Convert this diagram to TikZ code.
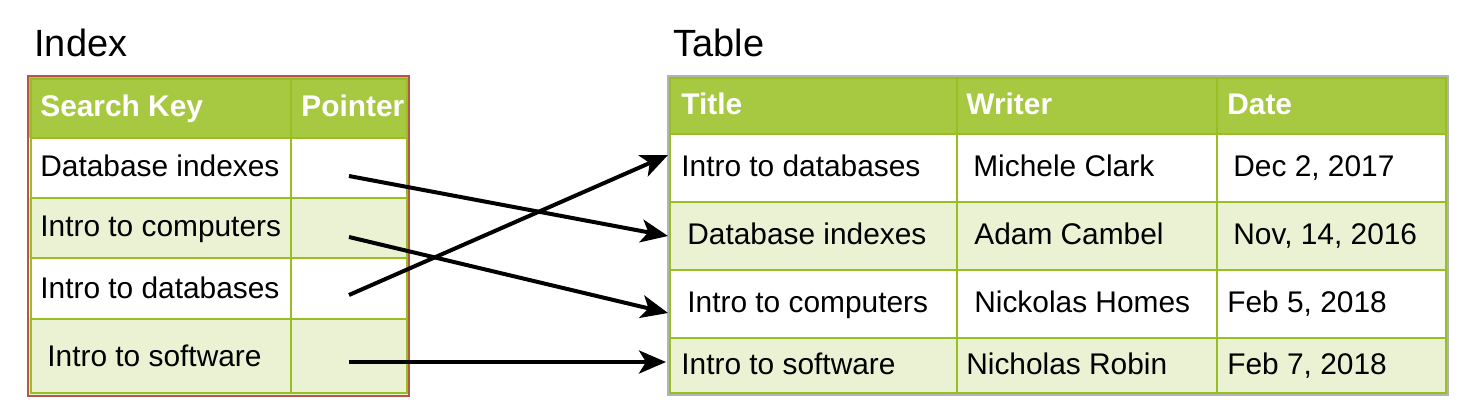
\documentclass[tikz,border=0pt]{standalone}
\usepackage{fontspec}
\setmainfont{Liberation Sans}
\usetikzlibrary{arrows.meta}

\definecolor{hdrgreen}{HTML}{A7C942}
\definecolor{rowgreen}{HTML}{EAF2D3}
\definecolor{linegreen}{HTML}{98BF21}
\definecolor{idxred}{HTML}{B85450}
\definecolor{tblgray}{HTML}{B3B3B3}

\tikzset{
  celltext/.style={anchor=base west, inner sep=0pt, font=\fontsize{17}{20}\selectfont},
  headtext/.style={anchor=base west, inner sep=0pt, text=white, font=\fontsize{17}{20}\selectfont\bfseries},
  titletext/.style={anchor=base west, inner sep=0pt, font=\fontsize{21.6}{26}\selectfont},
  gridline/.style={linegreen, line width=0.04cm},
  ptr/.style={-{Stealth[length=0.54cm,width=0.46cm,inset=0.14cm]}, line width=0.08cm},
}

\begin{document}
\begin{tikzpicture}[x=0.02cm, y=-0.02cm]
		\useasboundingbox (0,0) rectangle (1476,419);

		% titles
		\node[titletext] (idxtitle) at (34,56.7) {Index} ;
		\node[titletext] (tbltitle) at (673,56.7) {Table} ;

		% index table
		\fill[hdrgreen] (29,77) rectangle (409,138);
		\fill[rowgreen] (29,198) rectangle (409,258);
		\fill[rowgreen] (29,319) rectangle (409,395);
		\foreach \y in {138,198,258,319}
			\draw[gridline] (31,\y) -- (407,\y);
		\draw[gridline] (291,79) -- (291,393);
		\draw[gridline] (31,79) rectangle (407,393);
		\draw[idxred, line width=0.045cm] (28,76) rectangle (409,396);

		\node[headtext] (skey) at (40,116.7) {Search Key} ;
		\node[headtext] (pkey) at (301,116.7) {Pointer} ;
		\node[celltext] (i1) at (40,176) {Database indexes} ;
		\node[celltext] (i2) at (40,236.7) {Intro to computers} ;
		\node[celltext] (i3) at (40,298) {Intro to databases} ;
		\node[celltext] (i4) at (47,366) {Intro to software} ;

		% data table
		\fill[hdrgreen] (668,77) rectangle (1448,134);
		\fill[rowgreen] (668,202) rectangle (1448,270);
		\fill[rowgreen] (668,338) rectangle (1448,394);
		\foreach \y in {134,202,270,338}
			\draw[gridline] (670,\y) -- (1446,\y);
		\foreach \x in {957,1217}
			\draw[gridline] (\x,78) -- (\x,393);
		\draw[gridline] (670,78) rectangle (1446,393);
		\draw[tblgray, line width=0.045cm] (668,76) rectangle (1448,395);

		\node[headtext] (ttitle) at (681,114) {Title} ;
		\node[headtext] (twriter) at (966,114) {Writer} ;
		\node[headtext] (tdate) at (1227,114) {Date} ;

		\node[celltext] (t1) at (681,176.7) {Intro to databases} ;
		\node[celltext] (w1) at (973,176.7) {Michele Clark} ;
		\node[celltext] (d1) at (1233,176.7) {Dec 2, 2017} ;
		\node[celltext] (t2) at (687,244) {Database indexes} ;
		\node[celltext] (w2) at (974,244) {Adam Cambel} ;
		\node[celltext] (d2) at (1233,244) {Nov, 14, 2016} ;
		\node[celltext] (t3) at (687,312) {Intro to computers} ;
		\node[celltext] (w3) at (974,312) {Nickolas Homes} ;
		\node[celltext] (d3) at (1227,312) {Feb 5, 2018} ;
		\node[celltext] (t4) at (681,374) {Intro to software} ;
		\node[celltext] (w4) at (966,374) {Nicholas Robin} ;
		\node[celltext] (d4) at (1227,374) {Feb 7, 2018} ;

		% pointers
		\coordinate (p1) at (349,176);
		\coordinate (p2) at (349,237);
		\coordinate (p3) at (349,295);
		\coordinate (p4) at (349,362);
		\coordinate (r1) at (668,155);
		\coordinate (r2) at (668,236);
		\coordinate (r3) at (668,313);
		\coordinate (r4) at (666,362);
		\draw[ptr] (p1) -- (r2) ;
		\draw[ptr] (p2) -- (r3) ;
		\draw[ptr] (p3) -- (r1) ;
		\draw[ptr] (p4) -- (r4) ;
	\end{tikzpicture}
\end{document}
